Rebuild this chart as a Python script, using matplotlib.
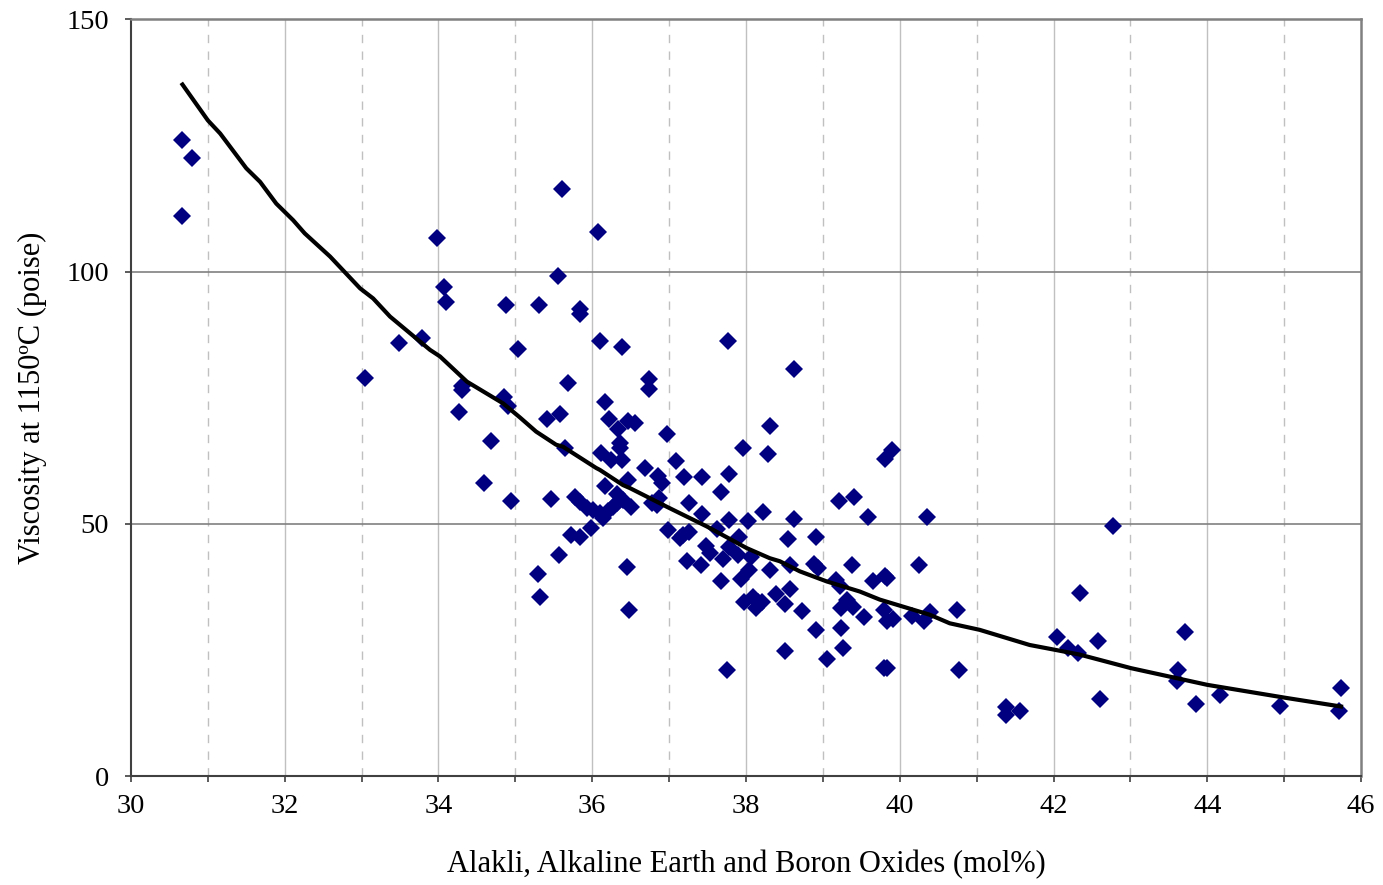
import numpy as np
import matplotlib
matplotlib.use("Agg")
import matplotlib.pyplot as plt
from matplotlib.ticker import MultipleLocator

plt.rcParams['font.family'] = ['Liberation Serif', 'DejaVu Serif']

# measured points (oxides mol%, viscosity poise)
oxides = [30.67, 30.79, 30.67, 33.98, 34.07, 36.07, 35.55, 34.10, 34.88, 35.31,
          35.84, 35.84, 33.49, 33.78, 35.03, 36.10, 36.39, 33.05, 35.69, 36.74,
          36.74, 34.30, 34.31, 34.27, 34.85, 34.91, 34.68, 35.41, 35.58, 36.16,
          36.22, 36.34, 36.46, 36.55, 36.36, 36.36, 35.64, 36.12, 36.24, 36.39,
          36.68, 36.86, 34.59, 36.16, 36.32, 36.47, 34.94, 35.46, 35.77, 35.84,
          35.93, 36.01, 36.10, 36.14, 36.20, 36.27, 36.32, 36.40, 36.51, 35.99,
          35.72, 35.84, 35.57, 35.29, 35.32, 36.45, 36.48, 36.78, 36.84, 36.87,
          36.98, 37.14, 37.26, 37.18, 37.26, 37.43, 37.48, 37.53, 37.23, 37.41,
          37.62, 37.78, 38.02, 38.22, 38.63, 37.70, 37.67, 37.91, 37.89, 38.07,
          38.04, 37.93, 38.31, 38.54, 38.57, 38.91, 38.89, 38.94, 39.38, 39.21,
          39.40, 37.98, 38.09, 38.15, 38.21, 38.13, 38.39, 38.51, 38.57, 38.73,
          38.91, 39.24, 39.26, 38.51, 39.06, 37.75, 39.17, 39.22, 39.31, 39.24,
          39.39, 37.09, 37.20, 37.43, 37.78, 37.96, 38.28, 38.31, 37.67, 36.91,
          36.97, 35.61, 37.76, 38.63, 39.59, 40.35, 39.81, 39.90, 37.78, 39.65,
          39.81, 39.83, 40.25, 39.53, 39.79, 39.83, 39.91, 40.16, 40.31, 40.40,
          40.75, 39.79, 39.84, 40.77, 41.38, 41.56, 41.38, 42.78, 42.34, 42.05,
          42.19, 42.32, 42.58, 42.61, 43.71, 43.62, 43.60, 43.85, 44.17, 44.95,
          45.74, 45.71]
viscosity = [126.1, 122.5, 111.0, 106.7, 97.0, 107.9, 99.1, 93.9, 93.4, 93.4,
             92.7, 91.6, 85.9, 86.9, 84.6, 86.3, 85.0, 78.9, 77.9, 78.7,
             76.7, 77.4, 76.6, 72.1, 75.1, 73.3, 66.5, 70.8, 71.7, 74.1,
             70.8, 68.8, 70.4, 70.0, 66.1, 65.0, 65.1, 64.0, 62.6, 62.6,
             61.1, 59.5, 58.1, 57.6, 55.9, 58.7, 54.6, 55.0, 55.4, 54.4,
             53.1, 52.8, 52.1, 51.1, 52.5, 53.4, 54.1, 54.8, 53.3, 49.2,
             47.8, 47.4, 43.9, 40.1, 35.6, 41.4, 33.0, 54.2, 53.8, 55.1,
             48.8, 47.2, 48.3, 47.8, 54.1, 51.9, 45.7, 44.3, 42.6, 41.8,
             49.0, 50.7, 50.6, 52.3, 51.0, 43.0, 38.6, 47.4, 43.9, 43.5,
             40.9, 39.1, 40.9, 47.0, 41.8, 47.5, 42.0, 41.2, 41.8, 54.6,
             55.4, 34.6, 35.6, 34.6, 34.6, 33.3, 36.2, 34.2, 37.0, 32.8,
             28.9, 29.4, 25.4, 24.9, 23.2, 21.0, 38.9, 37.6, 35.0, 33.3,
             33.6, 62.5, 59.4, 59.4, 59.9, 65.1, 63.8, 69.5, 56.4, 58.1,
             67.8, 116.3, 86.3, 80.7, 51.3, 51.3, 62.9, 64.7, 45.5, 38.6,
             39.6, 39.3, 41.8, 31.5, 33.0, 30.7, 31.2, 31.8, 30.7, 32.6,
             33.0, 21.4, 21.5, 21.0, 13.7, 13.0, 12.2, 49.6, 36.4, 27.6,
             25.5, 24.4, 26.7, 15.3, 28.5, 21.0, 18.8, 14.4, 16.1, 14.0,
             17.5, 13.0]

# fitted model curve
fit_x = [30.67, 31.0, 31.16, 31.5, 31.68, 31.89, 32.11, 32.26, 32.59, 32.98,
         33.15, 33.37, 33.63, 33.89, 34.02, 34.37, 34.84, 35.06, 35.27, 35.53,
         35.62, 36.05, 36.10, 36.40, 36.49, 36.88, 36.97, 37.49, 38.01, 38.31,
         38.44, 38.70, 39.05, 39.48, 39.74, 40.39, 40.65, 41.04, 41.69, 42.0,
         42.34, 43.01, 44.0, 45.03, 45.74]
fit_y = [137.1, 130.0, 127.4, 120.5, 117.8, 113.5, 110.2, 107.6, 103.0, 96.7,
         94.7, 91.1, 87.8, 84.5, 83.2, 78.2, 73.9, 71.1, 68.3, 65.7,
         65.3, 61.1, 60.7, 57.7, 57.1, 54.1, 53.4, 49.5, 45.2, 43.2,
         42.6, 40.6, 38.6, 36.6, 35.0, 32.0, 30.3, 29.0, 26.0, 25.1,
         24.1, 21.4, 18.1, 15.5, 13.8]

fig = plt.figure(figsize=(13.83, 8.85), dpi=100)
ax = fig.add_axes([0.0947, 0.123, 0.8894, 0.855])

# grid like the Excel chart
for v in range(31, 46):
    if v % 2 == 0:
        ax.axvline(v, color='#c0c0c0', lw=1.0, zorder=0)
    else:
        ax.axvline(v, color='#c0c0c0', lw=1.0, ls=(0, (6, 6)), zorder=0)
for h in (50, 100):
    ax.axhline(h, color='#808080', lw=1.2, zorder=0)

ax.plot(oxides, viscosity, 'D', color='#000080', markersize=9,
        markeredgewidth=0, zorder=3)
ax.plot(fit_x, fit_y, color='black', lw=3, zorder=4)

ax.set_xlim(30, 46)
ax.set_ylim(0, 150)
ax.xaxis.set_major_locator(MultipleLocator(2))
ax.xaxis.set_minor_locator(MultipleLocator(1))
ax.yaxis.set_major_locator(MultipleLocator(50))

for side in ('top', 'right'):
    ax.spines[side].set_color('#808080')
    ax.spines[side].set_linewidth(1.8)
for side in ('left', 'bottom'):
    ax.spines[side].set_color('#404040')
    ax.spines[side].set_linewidth(1.5)

ax.tick_params(axis='both', which='major', direction='out', length=4,
               width=1.2, color='#404040', labelsize=20.5)
ax.tick_params(axis='x', which='minor', direction='out', length=4,
               width=1.2, color='#404040')
ax.tick_params(axis='x', which='major', pad=9)
ax.tick_params(axis='y', which='major', pad=12)

ax.set_xlabel('Alakli, Alkaline Earth and Boron Oxides (mol%)', fontsize=22,
              labelpad=22)
ax.set_ylabel('Viscosity at 1150ºC (poise)', fontsize=22, labelpad=14)

fig.savefig('out.png', dpi=100)
